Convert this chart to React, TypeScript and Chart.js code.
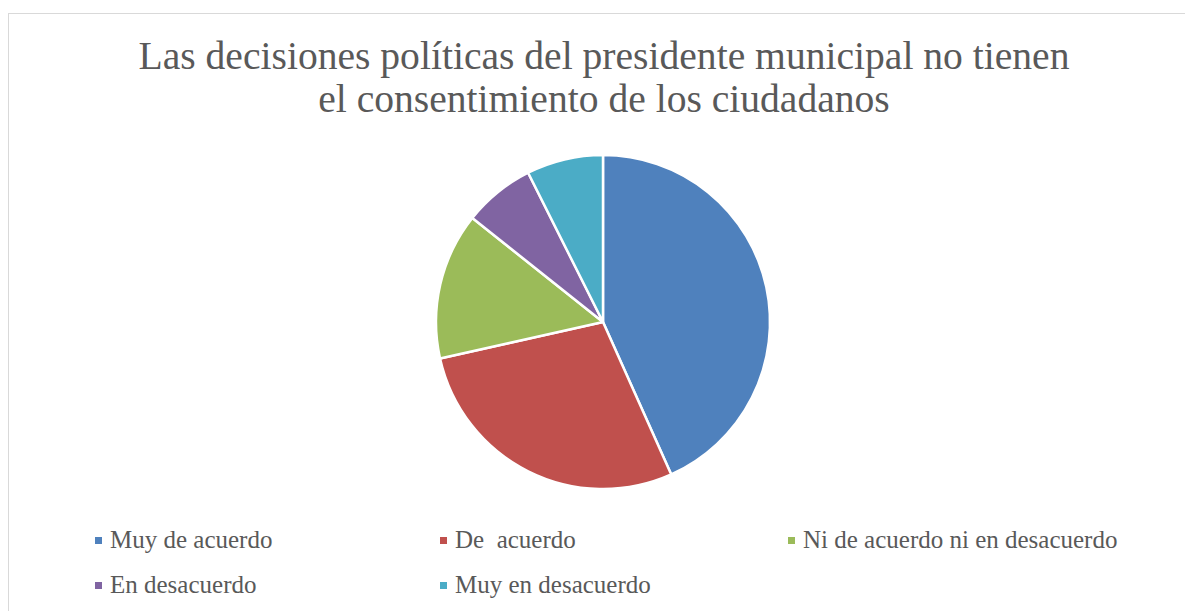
import React, { useEffect, useRef } from "react";
import { Chart, registerables } from "chart.js";

Chart.register(...registerables);

const titleLines = [
  "Las decisiones políticas del presidente municipal no tienen",
  "el consentimiento de los ciudadanos",
];
const categories = [
  "Muy de acuerdo",
  "De  acuerdo",
  "Ni de acuerdo ni en desacuerdo",
  "En desacuerdo",
  "Muy en desacuerdo",
];
const values = [43.3, 28.2, 14.2, 6.9, 7.4];
const colors = ["#4F81BD", "#C0504D", "#9BBB59", "#8064A2", "#4BACC6"];

const FONT = '"Liberation Serif", "Times New Roman", serif';

export default function App() {
  const canvasRef = useRef<HTMLCanvasElement | null>(null);

  useEffect(() => {
    const canvas = canvasRef.current;
    if (!canvas) return;
    const chart = new Chart(canvas, {
      type: "pie",
      data: {
        labels: categories,
        datasets: [
          {
            data: values,
            backgroundColor: colors,
            borderColor: "#ffffff",
            borderWidth: 2.5,
          },
        ],
      },
      options: {
        responsive: false,
        animation: false,
        radius: 167,
        layout: { padding: 0 },
        plugins: {
          legend: { display: false },
          tooltip: { enabled: false },
          title: { display: false },
        },
      },
    });
    return () => chart.destroy();
  }, []);

  const colX = [86, 431, 779];
  const rowTop = [513, 558];

  return (
    <div
      style={{
        position: "fixed",
        left: 8,
        top: 13,
        width: 1190,
        height: 600,
        borderTop: "1px solid #d9d9d9",
        borderLeft: "1px solid #d9d9d9",
        background: "#ffffff",
        overflow: "hidden",
      }}
    >
      <div
        style={{
          position: "absolute",
          top: 21,
          left: 0,
          width: 1190,
          textAlign: "center",
          fontFamily: FONT,
          fontSize: 39.6,
          lineHeight: "42.6px",
          color: "#595959",
          whiteSpace: "nowrap",
        }}
      >
        {titleLines.map((l, i) => (
          <div key={i}>{l}</div>
        ))}
      </div>
      <canvas
        ref={canvasRef}
        width={400}
        height={400}
        style={{ position: "absolute", left: 394, top: 108, width: 400, height: 400 }}
      />
      {categories.map((c, i) => {
        const col = i % 3;
        const row = Math.floor(i / 3);
        return (
          <React.Fragment key={c}>
            <div
              style={{
                position: "absolute",
                left: colX[col],
                top: rowTop[row] + 10,
                width: 7,
                height: 7,
                background: colors[i],
              }}
            />
            <div
              style={{
                position: "absolute",
                left: colX[col] + 15,
                top: rowTop[row],
                fontFamily: FONT,
                fontSize: 25,
                lineHeight: "25px",
                color: "#595959",
                whiteSpace: "pre",
              }}
            >
              {c}
            </div>
          </React.Fragment>
        );
      })}
    </div>
  );
}
